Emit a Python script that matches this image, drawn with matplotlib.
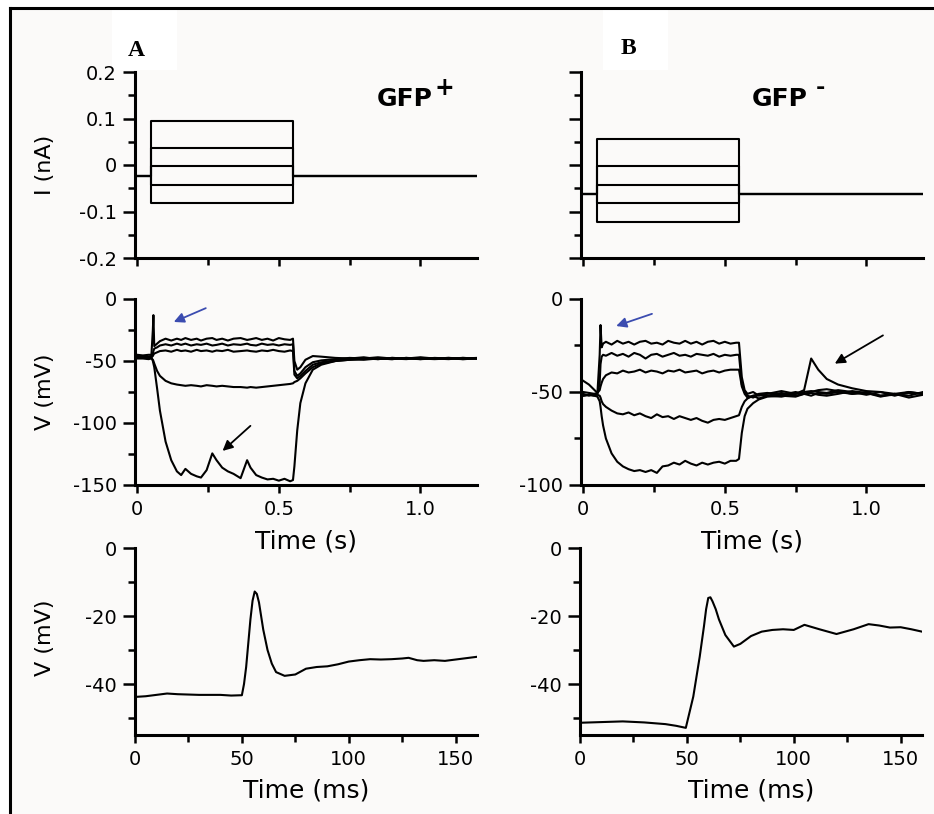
import numpy as np
import matplotlib
matplotlib.use("Agg")
import matplotlib.pyplot as plt
from matplotlib.patches import Rectangle
from matplotlib.lines import Line2D

plt.rcParams['font.family'] = ['DejaVu Sans']
plt.rcParams['axes.unicode_minus'] = False

# ---- current steps (nA), time in s ----
step_on = 0.05
step_off = 0.55
a_i_base = -0.024
a_i_levels = [0.095, 0.036, -0.003, -0.043, -0.081]
b_i_base = -0.062
b_i_levels = [0.056, -0.002, -0.043, -0.082, -0.122]

# ---- voltage responses, cell A (mV) ----
a_t = [0, 0.02, 0.04, 0.05, 0.055, 0.057, 0.06, 0.07, 0.08, 0.10, 0.12, 0.14, 0.155,
       0.17, 0.19, 0.21, 0.225, 0.245, 0.265, 0.28, 0.30, 0.32, 0.34, 0.365, 0.388,
       0.40, 0.42, 0.44, 0.46, 0.48, 0.50, 0.52, 0.54, 0.55, 0.555, 0.565, 0.576,
       0.594, 0.62, 0.65, 0.70, 0.75, 0.80, 0.85, 0.90, 0.95, 1.00, 1.05, 1.10, 1.15, 1.20]
a_v1 = [-45, -45.5, -45, -45, -25, -13, -38, -36, -34, -32, -33.5, -32, -33, -31.5, -33,
        -32, -33.5, -32, -31.5, -33, -32, -33.5, -32, -31.5, -33, -32.5, -31.5, -33, -32,
        -33.5, -31.5, -32.5, -33, -32, -50, -57, -55, -49, -46, -46.5, -47.5, -48, -47,
        -48.5, -47.5, -48, -47, -48, -47.5, -48, -47.5]
a_v2 = [-46, -46, -46.5, -46, -44, -42, -40, -39, -37.5, -36.5, -37.5, -36, -37, -36,
        -37.5, -36.5, -37, -36, -37.5, -37, -36, -37.5, -36.5, -37, -36, -37, -37.5, -36,
        -37, -36.5, -37.5, -36.5, -37, -36.5, -58, -62, -60, -55, -51, -49.5, -48.5,
        -47.5, -48, -47, -48, -48.5, -47.5, -48, -48.5, -47.5, -48]
a_v3 = [-47, -47, -47.5, -47, -46, -45, -44, -43, -42, -41.5, -42.5, -41, -42, -41.5,
        -42.5, -41, -42, -41.5, -42.5, -41.5, -42, -41, -42.5, -42, -41.5, -42, -42.5,
        -41.5, -42, -41, -42, -42.5, -41.5, -42, -61, -64, -62, -58, -53, -51, -49.5,
        -48.5, -49, -48, -48.5, -47.5, -48.5, -48, -47.5, -48.5, -48]
a_v4 = [-48, -48, -48.5, -48, -49, -50, -52, -58, -62, -66, -68, -69, -69.5, -70, -69.5,
        -70, -70.5, -69.5, -70, -70.5, -70, -70.5, -71, -71, -71.5, -71, -71.5, -71,
        -70.5, -70, -69.5, -69, -68.5, -68, -67, -66, -64, -60, -55, -52, -50, -49,
        -48.5, -48, -48.5, -47.5, -48, -48.5, -48, -47.5, -48]
a_v5 = [-47, -47, -47.5, -47, -50, -52, -55, -72, -90, -115, -130, -139, -142, -137,
        -141, -143, -144, -138, -124.5, -130, -136, -139, -141, -144.5, -130, -136,
        -142, -144, -145.5, -145, -146.5, -145, -147, -146, -135, -106, -84, -68, -57,
        -53, -50, -49, -48, -48.5, -47.5, -48, -48.5, -47.5, -48, -48.5, -48]

# ---- voltage responses, cell B (mV) ----
b_t = [0, 0.02, 0.04, 0.05, 0.058, 0.061, 0.065, 0.07, 0.08, 0.10, 0.12, 0.14, 0.16,
       0.18, 0.20, 0.22, 0.24, 0.26, 0.28, 0.30, 0.32, 0.34, 0.36, 0.38, 0.40, 0.42,
       0.44, 0.46, 0.48, 0.50, 0.52, 0.54, 0.55, 0.56, 0.57, 0.58, 0.60, 0.62, 0.65,
       0.70, 0.75, 0.78, 0.805, 0.83, 0.86, 0.90, 0.95, 1.00, 1.05, 1.10, 1.15, 1.20]
b_v1 = [-51, -52, -51, -50.5, -30, -14, -26, -24, -23, -24.5, -22.5, -24, -23, -24.5,
        -23, -22.5, -24, -23.5, -24.5, -22.5, -23.5, -24, -22.5, -24, -23, -24.5, -23,
        -22.5, -24, -23, -24, -23.5, -23.5, -42, -49, -51, -50, -52, -51, -49.5, -51,
        -49, -32, -38, -43, -46, -48, -49.5, -50, -52, -50, -51]
b_v2 = [-52, -51.5, -52, -51, -45, -35, -31, -30, -30.5, -29, -30.5, -29.5, -31, -29,
        -30, -32, -30, -29.5, -31, -30, -29, -30.5, -30, -31, -29.5, -30, -30.5, -29.5,
        -31, -30, -30.5, -30, -30, -46, -50, -52, -53, -51.5, -52, -50.5, -52, -51, -50,
        -49, -48.5, -49.5, -51, -50, -52, -51, -52, -50]
b_v3 = [-44, -46, -49, -50.5, -49, -47, -45, -43, -41, -39.5, -40, -38.5, -39.5, -39,
        -38, -39.5, -38.5, -39, -40, -38.5, -39, -38, -39.5, -39, -38.5, -40, -39, -38.5,
        -39.5, -38.5, -38, -38, -38, -47, -51, -53, -52, -53.5, -52, -52.5, -51, -50,
        -49.5, -50, -50.5, -49, -50, -51.5, -50, -51, -53, -51.5]
b_v4 = [-50, -50.5, -51, -51.5, -52, -53, -55, -56.5, -58, -60, -61.5, -62, -61, -62.5,
        -61.5, -63, -64, -62, -63.5, -63, -64.5, -63, -64, -65, -64, -65.5, -66.5, -65,
        -64.5, -65, -64, -63, -62.5, -58, -55, -53.5, -52, -51, -50.5, -51.5, -50, -51,
        -50.5, -51.5, -52, -51, -49.5, -50.5, -52.5, -51, -50, -51]
b_v5 = [-52, -51.5, -52, -52.5, -55, -58, -63, -68, -75, -83, -87.5, -90, -91.5, -92.5,
        -92, -93, -92, -93.5, -90, -89.5, -88, -89, -87, -88.5, -89.5, -88, -89, -88,
        -87.5, -88.5, -87, -87, -86, -72, -63, -59, -56, -54, -52.5, -52, -52.5, -51,
        -52, -50.5, -51, -50, -51, -50.5, -52, -51.5, -50.5, -51]

# ---- single spikes (time in ms) ----
a_ms = [0, 5, 10, 15, 20, 30, 40, 45, 50, 51, 52, 53, 54, 55, 56, 57, 58, 59, 60, 62,
        64, 66, 70, 75, 80, 85, 90, 95, 100, 105, 110, 115, 120, 125, 128, 132, 135,
        140, 145, 150, 155, 160]
a_spike = [-43.8, -43.6, -43.2, -42.8, -43.0, -43.2, -43.2, -43.4, -43.3, -40, -35,
           -28, -21, -15.5, -12.8, -13.5, -16, -20, -24, -30, -34, -36.5, -37.6, -37.2,
           -35.5, -35, -34.8, -34.2, -33.4, -33.0, -32.7, -32.8, -32.7, -32.5, -32.3,
           -33.0, -33.2, -33.0, -33.2, -32.8, -32.4, -32.0]
b_ms = [0, 10, 20, 30, 40, 45, 49.5, 53, 56, 58, 59, 60, 61, 62, 63.5, 65, 68, 72, 75,
        80, 85, 90, 95, 100, 105, 112, 120, 128, 135, 140, 145, 150, 155, 160]
b_spike = [-51.4, -51.2, -51.0, -51.3, -51.8, -52.3, -52.9, -43.7, -32, -23, -18,
           -14.7, -14.5, -15.7, -18, -21, -25.6, -29, -28.2, -25.9, -24.6, -24.1,
           -23.9, -24.1, -22.6, -23.9, -25.3, -23.9, -22.4, -22.8, -23.4, -23.3,
           -23.9, -24.6]

# arrows: (tail, head) in data coords of the voltage panels
a_blue_arrow = ((0.251, -6.5), (0.12, -19.4))
a_black_arrow = ((0.407, -100.8), (0.294, -124))
b_blue_arrow = ((0.252, -7.5), (0.107, -15))
b_black_arrow = ((1.067, -18.8), (0.88, -35.5))

BG = '#fbfaf9'
W, H = 934, 814
fig = plt.figure(figsize=(W / 100, H / 100), dpi=100, facecolor='white')

# page background, border, and the white boxes behind the panel letters
fig.add_artist(Rectangle((10 / W, 0), 1, 1 - 8 / H, transform=fig.transFigure,
                         facecolor=BG, edgecolor='none', zorder=-10))
fig.add_artist(Rectangle((112 / W, 1 - 70 / H), 65 / W, 62 / H, transform=fig.transFigure,
                         facecolor='white', edgecolor='none', zorder=-9))
fig.add_artist(Rectangle((603 / W, 1 - 70 / H), 65 / W, 62 / H, transform=fig.transFigure,
                         facecolor='white', edgecolor='none', zorder=-9))
fig.add_artist(Line2D([10 / W, 10 / W], [0, 1 - 8 / H], transform=fig.transFigure,
                      color='black', lw=2.2))
fig.add_artist(Line2D([10 / W, 1], [1 - 8 / H, 1 - 8 / H], transform=fig.transFigure,
                      color='black', lw=2.2))


def make_ax(px_left, px_top, px_right, px_bottom):
    ax = fig.add_axes([px_left / W, 1 - px_bottom / H,
                       (px_right - px_left) / W, (px_bottom - px_top) / H])
    ax.patch.set_visible(False)
    for s in ['top', 'right']:
        ax.spines[s].set_visible(False)
    for s in ['left', 'bottom']:
        ax.spines[s].set_linewidth(2.2)
    ax.tick_params(which='both', direction='out', width=1.8, labelsize=14, colors='black')
    ax.tick_params(axis='y', which='major', length=9, pad=4)
    ax.tick_params(axis='y', which='minor', length=5)
    ax.tick_params(axis='x', which='major', length=6, pad=5)
    ax.tick_params(axis='x', which='minor', length=5)
    return ax


def style_time_s(ax, labels=True):
    ax.set_xlim(-0.008, 1.2)
    ax.set_xticks([0, 0.5, 1.0])
    ax.set_xticks([0.25, 0.75], minor=True)
    if labels:
        ax.set_xticklabels(['0', '0.5', '1.0'])
        ax.set_xlabel('Time (s)', fontsize=18)
        ax.xaxis.set_label_coords(0.5, -0.24)
    else:
        ax.set_xticklabels([])


def style_time_ms(ax):
    ax.set_xlim(0, 160)
    ax.set_xticks([0, 50, 100, 150])
    ax.set_xticks([25, 75, 125], minor=True)
    ax.set_xlabel('Time (ms)', fontsize=18)
    ax.xaxis.set_label_coords(0.5, -0.235)
    ax.set_ylim(-55, 0)
    ax.set_yticks([-40, -20, 0])
    ax.set_yticks([-50, -30, -10], minor=True)


def step_trace(base, level):
    t = [0, step_on, step_on, step_off, step_off, 1.2]
    i = [base, base, level, level, base, base]
    return t, i


LW = 1.5

# ---------- panel A ----------
ax1 = make_ax(135, 72, 477, 258)
for lev in a_i_levels:
    t, i = step_trace(a_i_base, lev)
    ax1.plot(t, i, color='black', lw=LW)
ax1.set_ylim(-0.2, 0.2)
ax1.set_yticks([-0.2, -0.1, 0, 0.1, 0.2])
ax1.set_yticklabels(['-0.2', '-0.1', '0', '0.1', '0.2'])
ax1.set_yticks([-0.15, -0.05, 0.05, 0.15], minor=True)
style_time_s(ax1, labels=False)
ax1.set_ylabel('I (nA)', fontsize=16)
ax1.yaxis.set_label_coords(-0.235, 0.5)

ax2 = make_ax(135, 299, 477, 485)
for v in [a_v1, a_v2, a_v3, a_v4, a_v5]:
    ax2.plot(a_t, v, color='black', lw=LW)
ax2.set_ylim(-150, 0)
ax2.set_yticks([-150, -100, -50, 0])
ax2.set_yticks([-125, -75, -25], minor=True)
style_time_s(ax2)
ax2.set_ylabel('V (mV)', fontsize=16)
ax2.yaxis.set_label_coords(-0.235, 0.5)
ax2.annotate('', xy=a_blue_arrow[1], xytext=a_blue_arrow[0],
             arrowprops=dict(arrowstyle='-|>', color='#3b4cb0', lw=1.3, mutation_scale=15))
ax2.annotate('', xy=a_black_arrow[1], xytext=a_black_arrow[0],
             arrowprops=dict(arrowstyle='-|>', color='black', lw=1.3, mutation_scale=15))

ax3 = make_ax(135, 548, 477, 735)
ax3.plot(a_ms, a_spike, color='black', lw=LW)
style_time_ms(ax3)
ax3.set_ylabel('V (mV)', fontsize=16)
ax3.yaxis.set_label_coords(-0.235, 0.52)

# ---------- panel B ----------
bx1 = make_ax(581, 72, 923, 258)
for lev in b_i_levels:
    t, i = step_trace(b_i_base, lev)
    bx1.plot(t, i, color='black', lw=LW)
bx1.set_ylim(-0.2, 0.2)
bx1.set_yticks([-0.2, -0.1, 0, 0.1, 0.2])
bx1.set_yticks([-0.15, -0.05, 0.05, 0.15], minor=True)
bx1.set_yticklabels([])
style_time_s(bx1, labels=False)

bx2 = make_ax(581, 299, 923, 485)
for v in [b_v1, b_v2, b_v3, b_v4, b_v5]:
    bx2.plot(b_t, v, color='black', lw=LW)
bx2.set_ylim(-100, 0)
bx2.set_yticks([-100, -50, 0])
bx2.set_yticks([-75, -25], minor=True)
style_time_s(bx2)
bx2.annotate('', xy=b_blue_arrow[1], xytext=b_blue_arrow[0],
             arrowprops=dict(arrowstyle='-|>', color='#3b4cb0', lw=1.3, mutation_scale=15))
bx2.annotate('', xy=b_black_arrow[1], xytext=b_black_arrow[0],
             arrowprops=dict(arrowstyle='-|>', color='black', lw=1.3, mutation_scale=15))

bx3 = make_ax(580, 548, 922, 735)
bx3.plot(b_ms, b_spike, color='black', lw=LW)
style_time_ms(bx3)

# ---------- titles / letters ----------
ga = fig.text(377 / W, 1 - 99 / H, 'GFP', fontsize=18, fontweight='bold',
              ha='left', va='center')
ax1.annotate('+', xy=(1.0, 0.95), xycoords=ga, xytext=(1, 0), textcoords='offset points',
             fontsize=17, fontweight='bold', ha='left', va='center')
gb = fig.text(752 / W, 1 - 99 / H, 'GFP', fontsize=18, fontweight='bold',
              ha='left', va='center')
bx1.annotate('-', xy=(1.0, 0.95), xycoords=gb, xytext=(6, 0), textcoords='offset points',
             fontsize=16, fontweight='bold', ha='left', va='center')

fig.text(136 / W, 1 - 50 / H, 'A', fontsize=17, fontweight='bold',
         family='Liberation Serif', ha='center', va='center')
fig.text(628 / W, 1 - 49 / H, 'B', fontsize=17, fontweight='bold',
         family='Liberation Serif', ha='center', va='center')

fig.savefig('out.png', dpi=100, facecolor='white')
